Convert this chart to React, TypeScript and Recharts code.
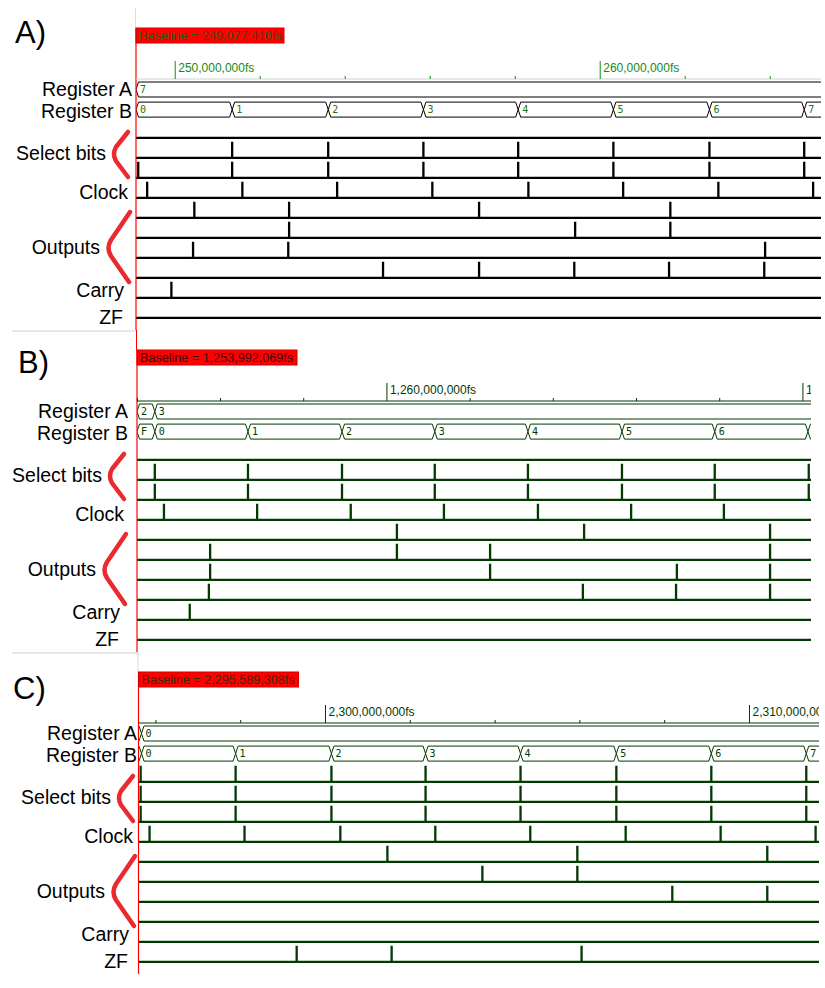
import React from 'react';
import { ComposedChart, Line, XAxis, YAxis, Scatter, ReferenceLine } from 'recharts';

// ---------------- Panel A (times in millions of fs) ----------------
const A_BASELINE = 249.07741;
const A_END = 265.195;
const A_TICKS = [250, 252, 254, 256, 258, 260, 262, 264];
const A_REG_A_VALUES = ['7'];
const A_REG_A_TIMES: number[] = [];
const A_REG_B_VALUES = ['0', '1', '2', '3', '4', '5', '6', '7'];
const A_REG_B_TIMES = [251.34, 253.6, 255.84, 258.07, 260.31, 262.57, 264.8];
const A_SELECT_0: number[] = [];
const A_SELECT_1 = [251.34, 253.6, 255.84, 258.07, 260.31, 262.57, 264.8];
const A_SELECT_2 = [249.13, 251.34, 253.6, 255.84, 258.07, 260.31, 262.57, 264.8];
const A_CLOCK = [249.34, 251.58, 253.81, 256.05, 258.31, 260.54, 262.78, 265.01];
const A_OUT_0 = [250.45, 252.68, 257.15, 261.65];
const A_OUT_1 = [252.68, 259.41, 261.65];
const A_OUT_2 = [250.42, 252.66, 263.88];
const A_OUT_3 = [254.89, 257.15, 259.39, 261.62, 263.86];
const A_CARRY = [249.91];
const A_ZF: number[] = [];

// ---------------- Panel B ----------------
const B_BASELINE = 1253.992069;
const B_END = 1270.194;
const B_TICKS = [1254, 1256, 1258, 1260, 1262, 1264, 1266, 1268, 1270];
const B_REG_A_VALUES = ['2', '3'];
const B_REG_A_TIMES = [1254.42];
const B_REG_B_VALUES = ['F', '0', '1', '2', '3', '4', '5', '6', '7'];
const B_REG_B_TIMES = [1254.42, 1256.66, 1258.92, 1261.15, 1263.39, 1265.65, 1267.88, 1270.12];
const B_SELECT_0: number[] = [];
const B_SELECT_1 = [1254.42, 1256.66, 1258.92, 1261.15, 1263.39, 1265.65, 1267.88, 1270.14];
const B_SELECT_2 = [1254.42, 1256.66, 1258.92, 1261.15, 1263.39, 1265.65, 1267.88, 1270.14];
const B_CLOCK = [1254.64, 1256.88, 1259.13, 1261.37, 1263.63, 1265.87, 1268.1];
const B_OUT_0 = [1260.24, 1264.74, 1269.21];
const B_OUT_1 = [1255.75, 1260.24, 1262.48, 1269.21];
const B_OUT_2 = [1255.75, 1262.48, 1266.97, 1269.21];
const B_OUT_3 = [1255.72, 1264.71, 1266.95, 1269.21];
const B_CARRY = [1255.26];
const B_ZF: number[] = [];

// ---------------- Panel C ----------------
const C_BASELINE = 2295.589308;
const C_END = 2311.64;
const C_TICKS = [2296, 2298, 2300, 2302, 2304, 2306, 2308, 2310];
const C_REG_A_VALUES = ['', '0'];
const C_REG_A_TIMES = [2295.66];
const C_REG_B_VALUES = ['', '0', '1', '2', '3', '4', '5', '6', '7'];
const C_REG_B_TIMES = [2295.66, 2297.88, 2300.14, 2302.36, 2304.6, 2306.86, 2309.1, 2311.34];
const C_SELECT_0 = [2295.64, 2297.88, 2300.14, 2302.36, 2304.6, 2306.86, 2309.1, 2311.34];
const C_SELECT_1 = [2295.64, 2297.88, 2300.14, 2302.36, 2304.6, 2306.86, 2309.1, 2311.34];
const C_SELECT_2 = [2295.64, 2297.88, 2300.14, 2302.36, 2304.6, 2306.86, 2309.1, 2311.34];
const C_CLOCK = [2295.85, 2298.09, 2300.35, 2302.59, 2304.83, 2307.08, 2309.32, 2311.56];
const C_OUT_0 = [2301.46, 2305.94, 2310.42];
const C_OUT_1 = [2303.7, 2305.94];
const C_OUT_2 = [2308.18, 2310.42];
const C_OUT_3: number[] = [];
const C_CARRY: number[] = [];
const C_ZF = [2299.32, 2301.56, 2306.04];

// ---------------- Row labels ----------------
const ROW_LABELS = ['Register A', 'Register B', 'Select bits', 'Clock', 'Outputs', 'Carry', 'ZF'];

// ---------------- Layout (not data) ----------------
const PLOT_TOP = 79;
const CHART_H = 330;
const ROW_BASE = 2.94;
const SPIKE_H = 0.8;
const BUS_HALF = 0.375;
const REG_A_MID = 0.525;
const REG_B_MID = 1.53;
const LABEL_Y = [0.825, 1.925, 4.05, 5.975, 8.75, 10.875, 12.25];
const LABEL_RIGHT = [132, 132, 106, 128, 100, 124, 123];
const FONT = 'Liberation Sans, Arial, sans-serif';

type Bus = { values: string[]; times: number[] };
type Panel = {
  key: string; top: number; left: number; right: number; start: number; end: number;
  ticks: number[]; regA: Bus; regB: Bus; rows: number[][];
  wave: string; bus: string; busText: string; axis: string; tick: string; boxText: string;
  shift: number; letter: string; letterX: number; letterY: number; aboveLine: string;
};

const PANELS: Panel[] = [
  {
    key: 'A', top: 0, left: 136, right: 821, start: A_BASELINE, end: A_END, ticks: A_TICKS,
    regA: { values: A_REG_A_VALUES, times: A_REG_A_TIMES },
    regB: { values: A_REG_B_VALUES, times: A_REG_B_TIMES },
    rows: [A_SELECT_0, A_SELECT_1, A_SELECT_2, A_CLOCK, A_OUT_0, A_OUT_1, A_OUT_2, A_OUT_3, A_CARRY, A_ZF],
    wave: '#000000', bus: '#000000', busText: '#167816', axis: '#d0d0d0', tick: '#158a15', boxText: '#1f5a12',
    shift: 0, letter: 'A)', letterX: 15, letterY: 43, aboveLine: '#dcdcdc',
  },
  {
    key: 'B', top: 322, left: 137, right: 811, start: B_BASELINE, end: B_END, ticks: B_TICKS,
    regA: { values: B_REG_A_VALUES, times: B_REG_A_TIMES },
    regB: { values: B_REG_B_VALUES, times: B_REG_B_TIMES },
    rows: [B_SELECT_0, B_SELECT_1, B_SELECT_2, B_CLOCK, B_OUT_0, B_OUT_1, B_OUT_2, B_OUT_3, B_CARRY, B_ZF],
    wave: '#023a02', bus: '#023a02', busText: '#023a02', axis: '#023a02', tick: '#023a02', boxText: '#3a0c0c',
    shift: -4, letter: 'B)', letterX: 18, letterY: 51, aboveLine: '#ff0000',
  },
  {
    key: 'C', top: 644, left: 138.5, right: 819, start: C_BASELINE, end: C_END, ticks: C_TICKS,
    regA: { values: C_REG_A_VALUES, times: C_REG_A_TIMES },
    regB: { values: C_REG_B_VALUES, times: C_REG_B_TIMES },
    rows: [C_SELECT_0, C_SELECT_1, C_SELECT_2, C_CLOCK, C_OUT_0, C_OUT_1, C_OUT_2, C_OUT_3, C_CARRY, C_ZF],
    wave: '#023a02', bus: '#023a02', busText: '#023a02', axis: '#023a02', tick: '#023a02', boxText: '#3a2a0c',
    shift: 5, letter: 'C)', letterX: 13, letterY: 55, aboveLine: '#dcdcdc',
  },
];

function withCommas(n: number) {
  return String(Math.round(n)).replace(/\B(?=(\d{3})+(?!\d))/g, ',');
}

function spikeSeries(times: number[], base: number, start: number, end: number) {
  const pts: { t: number; v: number }[] = [{ t: start, v: base }];
  times.forEach((s) => {
    pts.push({ t: s, v: base }, { t: s, v: base - SPIKE_H }, { t: s, v: base });
  });
  pts.push({ t: end, v: base });
  return pts;
}

function busEdge(times: number[], mid: number, start: number, end: number, d: number, sign: number) {
  const edge = mid + sign * BUS_HALF;
  const pts: { t: number; v: number }[] = [];
  if (times.length && times[0] - start < 3 * d) {
    pts.push({ t: start, v: edge });
  } else {
    pts.push({ t: start, v: mid }, { t: start + d, v: edge });
  }
  times.forEach((s) => {
    pts.push({ t: s - d, v: edge }, { t: s, v: mid }, { t: s + d, v: edge });
  });
  pts.push({ t: end, v: edge });
  return pts;
}

function busLabels(bus: Bus, mid: number, start: number) {
  const pts = [{ t: start, v: mid, label: bus.values[0] }];
  bus.times.forEach((s, i) => pts.push({ t: s, v: mid, label: bus.values[i + 1] }));
  return pts.filter((p) => p.label);
}

function TimeTick(props: any) {
  const { x, payload, color } = props;
  const v = payload.value as number;
  const major = Math.abs(v / 10 - Math.round(v / 10)) < 1e-6;
  if (major) {
    return (
      <g>
        <line x1={x} x2={x} y1={PLOT_TOP} y2={PLOT_TOP - 18} stroke={color} strokeWidth={1} />
        <text x={x + 3} y={PLOT_TOP - 7} fill={color} fontSize={12} fontFamily={FONT}>
          {withCommas(v * 1e6) + 'fs'}
        </text>
      </g>
    );
  }
  return <line x1={x} x2={x} y1={PLOT_TOP} y2={PLOT_TOP - 3} stroke={color} strokeWidth={1} />;
}

function RowLabelTick(props: any) {
  const { y, payload, shift } = props;
  const i = LABEL_Y.indexOf(payload.value);
  if (i < 0) return <g />;
  return (
    <text x={LABEL_RIGHT[i] + shift} y={y} textAnchor="end" fontSize={19.5} fontFamily={FONT} fill="#000">
      {ROW_LABELS[i]}
    </text>
  );
}

function BaselineMarker(props: any) {
  const { x1, y1, y2, label, textColor, aboveLine } = props;
  const top = Math.min(y1, y2);
  const bottom = Math.max(y1, y2);
  const boxTop = top - 51;
  const w = label.length * 6 + 4;
  return (
    <g>
      <line x1={x1 - 0.5} x2={x1 - 0.5} y1={8} y2={boxTop} stroke={aboveLine} strokeWidth={1} />
      <line x1={x1} x2={x1} y1={boxTop} y2={bottom + 1} stroke="#ff0000" strokeWidth={1.2} />
      <rect x={x1} y={boxTop} width={w} height={15} fill="#ff0000" stroke="#d00000" strokeWidth={1} />
      <text x={x1 + 3} y={boxTop + 12} fill={textColor} fontSize={12.6} fontFamily={FONT}>
        {label}
      </text>
    </g>
  );
}

function Brackets({ shift }: { shift: number }) {
  const s = shift;
  return (
    <g fill="none" stroke="#ea2a2e" strokeWidth={4.5} strokeLinecap="round" strokeLinejoin="round">
      <path d={`M${128 + s},132 L${116 + s},147 Q${112 + s},154 ${116 + s},161 L${128 + s},177`} />
      <path d={`M${130 + s},212 L${111 + s},240 Q${106 + s},248 ${111 + s},256 L${129 + s},282`} />
    </g>
  );
}

function WavePanel({ cfg }: { cfg: Panel }) {
  const pxPerUnit = (cfg.right - cfg.left) / (cfg.end - cfg.start);
  const d = 2.5 / pxPerUnit;
  const regATop = busEdge(cfg.regA.times, REG_A_MID, cfg.start, cfg.end, d, -1);
  const regABot = busEdge(cfg.regA.times, REG_A_MID, cfg.start, cfg.end, d, 1);
  const regBTop = busEdge(cfg.regB.times, REG_B_MID, cfg.start, cfg.end, d, -1);
  const regBBot = busEdge(cfg.regB.times, REG_B_MID, cfg.start, cfg.end, d, 1);
  const labels = [...busLabels(cfg.regA, REG_A_MID, cfg.start), ...busLabels(cfg.regB, REG_B_MID, cfg.start)];
  const baselineLabel = 'Baseline = ' + withCommas(cfg.start * 1e6) + 'fs';

  return (
    <>
      <svg
        width={825}
        height={CHART_H + 6}
        style={{ position: 'absolute', left: 0, top: cfg.top, pointerEvents: 'none' }}
      >
        <text x={cfg.letterX} y={cfg.letterY} fontSize={31} fontFamily={FONT} fill="#000">
          {cfg.letter}
        </text>
        <Brackets shift={cfg.shift} />
        {cfg.key !== 'A' && <rect x={12} y={8} width={cfg.left - 12} height={2} fill="#e8e8e8" />}
      </svg>
      <div style={{ position: 'absolute', left: 0, top: cfg.top, width: cfg.right, height: CHART_H, overflow: 'hidden' }}>
        <ComposedChart width={cfg.right} height={CHART_H} margin={{ top: 49, right: 0, bottom: 1, left: 0 }}>
          <XAxis
            type="number"
            dataKey="t"
            domain={[cfg.start, cfg.end]}
            allowDataOverflow
            orientation="top"
            height={30}
            ticks={cfg.ticks}
            interval={0}
            tickLine={false}
            axisLine={{ stroke: cfg.axis, strokeWidth: 1 }}
            tick={(p: any) => <TimeTick {...p} color={cfg.tick} />}
          />
          <YAxis
            type="number"
            domain={[0, 12.5]}
            reversed
            allowDataOverflow
            width={cfg.left}
            ticks={LABEL_Y}
            interval={0}
            axisLine={false}
            tickLine={false}
            tick={(p: any) => <RowLabelTick {...p} shift={cfg.shift} />}
          />
          <Line data={regATop} dataKey="v" type="linear" stroke={cfg.bus} strokeWidth={1} dot={false} isAnimationActive={false} />
          <Line data={regABot} dataKey="v" type="linear" stroke={cfg.bus} strokeWidth={1} dot={false} isAnimationActive={false} />
          <Line data={regBTop} dataKey="v" type="linear" stroke={cfg.bus} strokeWidth={1} dot={false} isAnimationActive={false} />
          <Line data={regBBot} dataKey="v" type="linear" stroke={cfg.bus} strokeWidth={1} dot={false} isAnimationActive={false} />
          {cfg.rows.map((times, i) => (
            <Line
              key={'row' + i}
              data={spikeSeries(times, ROW_BASE + i, cfg.start, cfg.end)}
              dataKey="v"
              type="linear"
              stroke={cfg.wave}
              strokeWidth={2.3}
              dot={false}
              isAnimationActive={false}
            />
          ))}
          <Scatter
            data={labels}
            dataKey="v"
            isAnimationActive={false}
            shape={(p: any) => (
              <text x={p.cx + 4} y={p.cy + 3.5} fontSize={10} fontFamily="DejaVu Sans Mono, monospace" fill={cfg.busText}>
                {p.payload.label}
              </text>
            )}
          />
          <ReferenceLine
            x={cfg.start}
            ifOverflow="visible"
            stroke="#ff0000"
            shape={(p: any) => (
              <BaselineMarker {...p} label={baselineLabel} textColor={cfg.boxText} aboveLine={cfg.aboveLine} />
            )}
          />
        </ComposedChart>
      </div>
    </>
  );
}

export default function App() {
  return (
    <div style={{ position: 'absolute', left: 0, top: 0, width: 825, height: 988, background: '#fff' }}>
      {PANELS.map((p) => (
        <WavePanel key={p.key} cfg={p} />
      ))}
    </div>
  );
}
